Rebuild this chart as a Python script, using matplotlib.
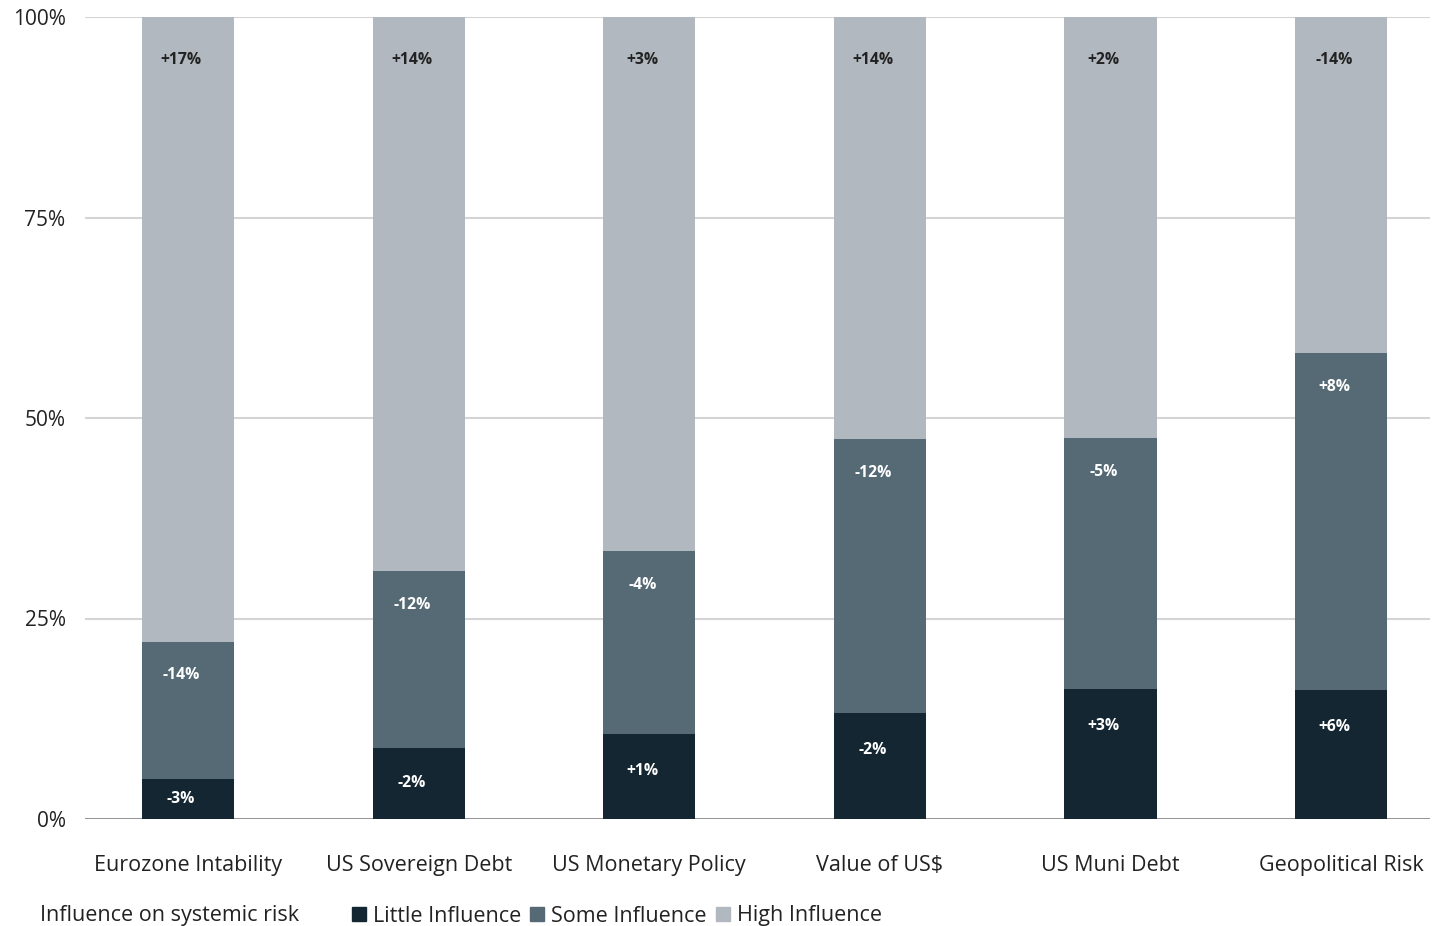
import matplotlib.pyplot as plt
from matplotlib.lines import Line2D
from matplotlib.ticker import FuncFormatter

plt.rcParams['font.family'] = ['Open Sans', 'DejaVu Sans']

categories = ['Eurozone Intability', 'US Sovereign Debt', 'US Monetary Policy',
              'Value of US$', 'US Muni Debt', 'Geopolitical Risk']
series_names = ['Little Influence', 'Some Influence', 'High Influence']

little = [5.0, 8.9, 10.6, 13.2, 16.2, 16.1]
some = [17.1, 22.0, 22.8, 34.2, 31.3, 42.0]
high = [77.9, 69.1, 66.6, 52.6, 52.5, 41.9]

little_change = ['-3%', '-2%', '+1%', '-2%', '+3%', '+6%']
some_change = ['-14%', '-12%', '-4%', '-12%', '-5%', '+8%']
high_change = ['+17%', '+14%', '+3%', '+14%', '+2%', '-14%']

colors = ['#142632', '#566a75', '#b1b8bf']
label_colors = ['white', 'white', '#222222']
label_drop = [4.6, 4.2, 5.3]

fig = plt.figure(figsize=(14.47, 9.26), dpi=100)
ax = fig.add_axes([85 / 1447, 107 / 926, 1345 / 1447, 802 / 926])

x = list(range(len(categories)))
bottom = [0.0] * len(categories)
for vals, changes, color, tcolor, drop in zip([little, some, high],
                                              [little_change, some_change, high_change],
                                              colors, label_colors, label_drop):
    ax.bar(x, vals, width=0.4, bottom=bottom, color=color, zorder=3)
    for i, (v, lab) in enumerate(zip(vals, changes)):
        top = bottom[i] + v
        offset = min(drop, v / 2)
        ax.text(x[i] - 0.03, top - offset, lab, ha='center', va='center',
                fontsize=11.3, fontweight='bold', color=tcolor, zorder=4)
    bottom = [b + v for b, v in zip(bottom, vals)]

ax.set_xlim(-0.447, 5.386)
ax.set_ylim(0, 100)
ax.set_yticks([0, 25, 50, 75, 100])
ax.yaxis.set_major_formatter(FuncFormatter(lambda v, p: f'{v:.0f}%'))
ax.set_xticks(x)
ax.set_xticklabels(categories)
ax.tick_params(axis='both', length=0, colors='#222222')
ax.tick_params(axis='y', pad=14, labelsize=15)
ax.tick_params(axis='x', pad=26, labelsize=15.5)
for s in ax.spines.values():
    s.set_visible(False)
ax.grid(axis='y', color='#d4d4d4', linewidth=1.5, zorder=0)
ax.axhline(0, color='#8a8a8a', linewidth=1.2, zorder=2)

# legend row underneath the category labels
legend_y = 1 - 916 / 926
fig.text(40 / 1447, legend_y, 'Influence on systemic risk', fontsize=15.5,
         color='#222222', va='center', ha='left')
handles = [Line2D([], [], marker='s', linestyle='none', markersize=10,
                  markerfacecolor=c, markeredgecolor=c) for c in colors]
fig.legend(handles, series_names, loc='center left', ncol=3,
           bbox_to_anchor=(332 / 1447, legend_y), frameon=False,
           fontsize=15.5, handlelength=0.7, handletextpad=0.3, columnspacing=0.4,
           labelcolor='#222222')

fig.savefig('out.png', dpi=100)
